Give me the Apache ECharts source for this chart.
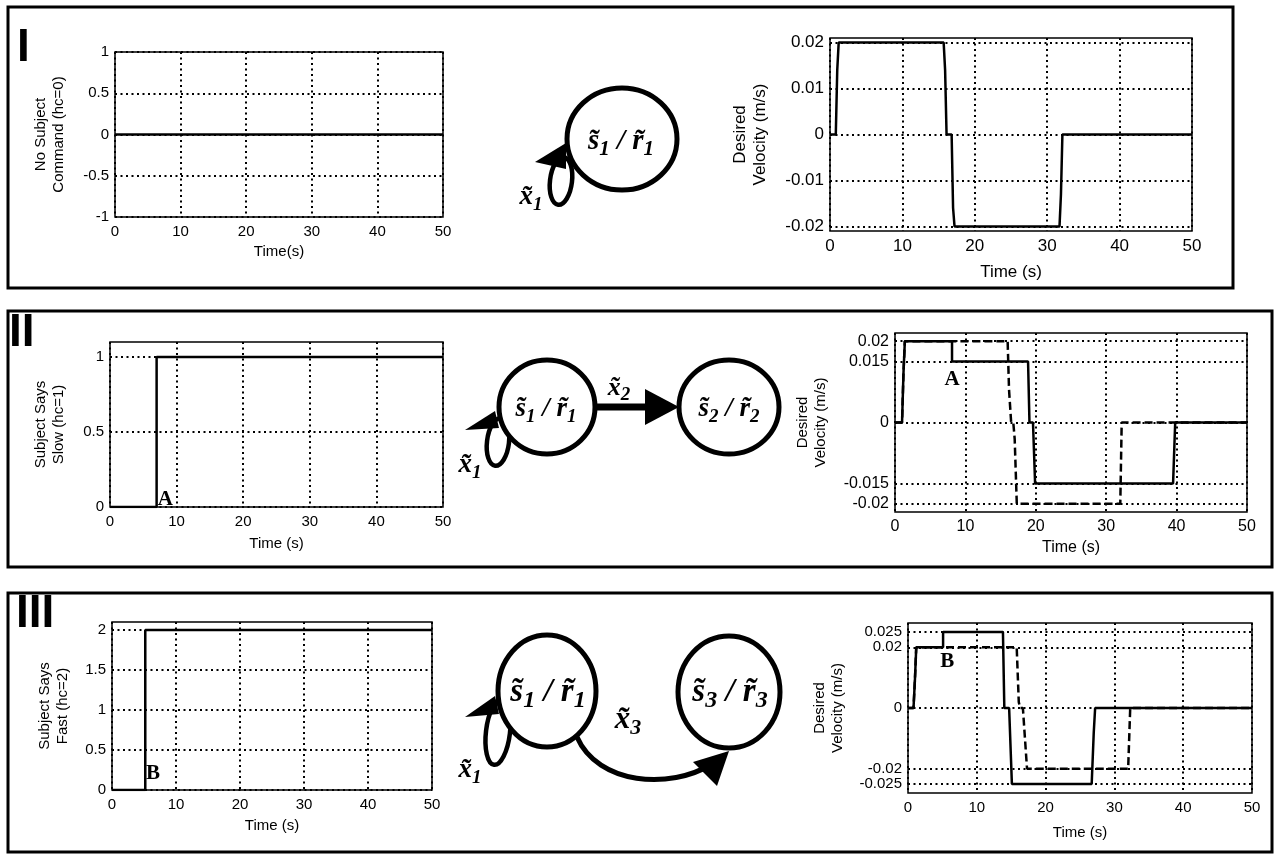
<!DOCTYPE html>
<html>
<head>
<meta charset="utf-8">
<script src="https://cdn.jsdelivr.net/npm/echarts@6.0.0/dist/echarts.min.js"></script>
<style>
  html, body { margin: 0; padding: 0; background: #fff; }
  #main { width: 1275px; height: 854px; }
</style>
</head>
<body>
<div id="main"></div>
<script>
// tick labels
const timeTicks = [0, 10, 20, 30, 40, 50];
const cmdTicksI = [-1, -0.5, 0, 0.5, 1];
const velTicksI = [-0.02, -0.01, 0, 0.01, 0.02];
const cmdTicksII = [0, 0.5, 1];
const velTicksII = [-0.02, -0.015, 0, 0.015, 0.02];
const cmdTicksIII = [0, 0.5, 1, 1.5, 2];
const velTicksIII = [-0.025, -0.02, 0, 0.02, 0.025];

// subject command (hc) over time
const cmdI = [[0, 0], [50, 0]];
const cmdII = [[0, 0], [7, 0], [7, 1], [50, 1]];
const cmdIII = [[0, 0], [5.2, 0], [5.2, 2], [50, 2]];

// desired velocity (m/s) over time
const velI = [[0, 0], [0.8, 0], [1.0, 0.014], [1.2, 0.02], [15.7, 0.02], [15.9, 0.014], [16.1, 0], [16.8, 0],
  [17.0, -0.016], [17.2, -0.02], [31.7, -0.02], [31.9, -0.013], [32.1, 0], [50, 0]];
const velIISolid = [[0, 0], [1.0, 0], [1.2, 0.012], [1.4, 0.02], [8.1, 0.02], [8.1, 0.015], [18.9, 0.015],
  [19.1, 0], [19.6, 0], [19.9, -0.015], [39.5, -0.015], [39.8, 0], [50, 0]];
const velIIDashed = [[0, 0], [1.0, 0], [1.2, 0.012], [1.4, 0.02], [16.0, 0.02], [16.2, 0.008], [16.5, 0],
  [16.8, 0], [17.0, -0.004], [17.3, -0.02], [32.0, -0.02], [32.2, 0], [50, 0]];
const velIIISolid = [[0, 0], [0.8, 0], [1.0, 0.009], [1.2, 0.02], [5.1, 0.02], [5.1, 0.025], [13.8, 0.025],
  [14.0, 0], [14.7, 0], [15.1, -0.025], [26.7, -0.025], [27.0, -0.008], [27.2, 0], [50, 0]];
const velIIIDashed = [[0, 0], [0.8, 0], [1.0, 0.009], [1.2, 0.02], [15.8, 0.02], [16.1, 0.002], [16.3, 0],
  [16.7, 0], [17.3, -0.02], [32.0, -0.02], [32.3, 0], [50, 0]];

// annotation points (time, value)
const markA1 = [8.3, 0.05];
const markA2 = [8.1, 0.0106];
const markB1 = [6.4, 0.21];
const markB2 = [5.7, 0.0153];

const charts = [
  { grid: { left: 115, top: 52, width: 328, height: 165 }, yMin: -1, yMax: 1, yTicks: cmdTicksI,
    yName: 'No Subject\nCommand (hc=0)', xName: 'Time(s)', yGap: 47, xGap: 27, fs: 15, nfs: 15,
    lines: [{ data: cmdI }] },
  { grid: { left: 830, top: 38, width: 362, height: 193 }, yMin: -0.021, yMax: 0.021, yTicks: velTicksI,
    yName: 'Desired\nVelocity (m/s)', xName: 'Time (s)', yGap: 60, xGap: 33, fs: 17, nfs: 17,
    lines: [{ data: velI }] },
  { grid: { left: 110, top: 342, width: 333, height: 165 }, yMin: 0, yMax: 1.1, yTicks: cmdTicksII,
    yName: 'Subject Says\nSlow (hc=1)', xName: 'Time (s)', yGap: 42, xGap: 29, fs: 15, nfs: 15,
    lines: [{ data: cmdII, mark: markA1, txt: 'A' }] },
  { grid: { left: 895, top: 333, width: 352, height: 179 }, yMin: -0.022, yMax: 0.022, yTicks: velTicksII,
    yName: 'Desired\nVelocity (m/s)', xName: 'Time (s)', yGap: 65, xGap: 28, fs: 16, nfs: 15,
    lines: [{ data: velIIDashed, dashed: true }, { data: velIISolid, mark: markA2, txt: 'A' }] },
  { grid: { left: 112, top: 622, width: 320, height: 168 }, yMin: 0, yMax: 2.1, yTicks: cmdTicksIII,
    yName: 'Subject Says\nFast (hc=2)', xName: 'Time (s)', yGap: 40, xGap: 28, fs: 15, nfs: 15,
    lines: [{ data: cmdIII, mark: markB1, txt: 'B' }] },
  { grid: { left: 908, top: 623, width: 344, height: 170 }, yMin: -0.028, yMax: 0.028, yTicks: velTicksIII,
    yName: 'Desired\nVelocity (m/s)', xName: 'Time (s)', yGap: 61, xGap: 32, fs: 15, nfs: 15,
    lines: [{ data: velIIIDashed, dashed: true }, { data: velIIISolid, mark: markB2, txt: 'B' }] }
];

const sans = 'Liberation Sans';
const serif = 'Liberation Serif';
const gridLine = { show: true, lineStyle: { color: '#000', type: [2, 3.5], width: 2 } };

const grids = [], xAxes = [], yAxes = [], series = [];
charts.forEach((c, i) => {
  grids.push(Object.assign({ show: true, borderColor: '#000', borderWidth: 1.5, backgroundColor: '#fff' }, c.grid));
  xAxes.push({
    type: 'value', gridIndex: i, min: 0, max: 50,
    name: c.xName, nameLocation: 'middle', nameGap: c.xGap,
    nameTextStyle: { color: '#000', fontFamily: sans, fontSize: c.fs },
    axisLine: { show: false, onZero: false },
    axisTick: { show: false, customValues: timeTicks },
    axisLabel: { customValues: timeTicks, color: '#000', fontFamily: sans, fontSize: c.fs, margin: 7 },
    splitLine: gridLine
  });
  yAxes.push({
    type: 'value', gridIndex: i, min: c.yMin, max: c.yMax,
    name: c.yName, nameLocation: 'middle', nameGap: c.yGap, nameRotate: 90,
    nameTextStyle: { color: '#000', fontFamily: sans, fontSize: c.nfs, lineHeight: c.nfs + 3 },
    axisLine: { show: false, onZero: false },
    axisTick: { show: false, customValues: c.yTicks },
    axisLabel: { customValues: c.yTicks, color: '#000', fontFamily: sans, fontSize: c.fs, margin: 6 },
    splitLine: gridLine
  });
  c.lines.forEach((l) => {
    const s = {
      type: 'line', xAxisIndex: i, yAxisIndex: i, data: l.data, symbol: 'none', silent: true,
      z: l.dashed ? 2 : 3,
      lineStyle: { color: '#000', width: 2.5, type: l.dashed ? [8, 4] : 'solid' }
    };
    if (l.mark) {
      s.markPoint = {
        symbol: 'circle', symbolSize: 0, silent: true,
        label: { show: true, position: 'inside', formatter: l.txt, color: '#000',
          fontFamily: serif, fontWeight: 'bold', fontSize: 21 },
        data: [{ coord: l.mark }]
      };
    }
    series.push(s);
  });
});

// state diagrams
const rich = (size) => ({
  v: { fontFamily: serif, fontStyle: 'italic', fontWeight: 'bold', fontSize: size, color: '#000' },
  s: { fontFamily: serif, fontStyle: 'italic', fontWeight: 'bold', fontSize: Math.round(size * 0.72),
    color: '#000', verticalAlign: 'bottom', padding: [0, 0, -4, 0] }
});
const stateText = (x, y, n, size) => ({
  type: 'text', x: x, y: y, z: 20,
  style: { text: '{v|s\u0303}{s|' + n + '}{v| / r\u0303}{s|' + n + '}', rich: rich(size),
    align: 'center', verticalAlign: 'middle' }
});
const edgeText = (x, y, n, size) => ({
  type: 'text', x: x, y: y, z: 20,
  style: { text: '{v|x\u0303}{s|' + n + '}', rich: rich(size), align: 'center', verticalAlign: 'middle' }
});
const ring = (cx, cy, rx, ry) => ({
  type: 'ellipse', z: 15, shape: { cx: cx, cy: cy, rx: rx, ry: ry },
  style: { fill: '#fff', stroke: '#000', lineWidth: 5 }
});
const loop = (cx, cy, rx, ry) => ({
  type: 'ellipse', z: 12, x: cx, y: cy, rotation: -0.12, shape: { cx: 0, cy: 0, rx: rx, ry: ry },
  style: { fill: 'none', stroke: '#000', lineWidth: 4.5 }
});
const tri = (pts) => ({ type: 'polygon', z: 16, shape: { points: pts }, style: { fill: '#000' } });
const frame = (x, y, w, h) => ({
  type: 'rect', z: 0, shape: { x: x, y: y, width: w, height: h },
  style: { fill: 'none', stroke: '#000', lineWidth: 3 }
});
const numeral = (x, y, t) => ({
  type: 'text', x: x, y: y, z: 20,
  style: { text: t, fontFamily: sans, fontWeight: 'bold', fontSize: 46, fill: '#000',
    align: 'left', verticalAlign: 'top' }
});

const graphic = [
  frame(8, 7, 1225, 281), frame(8, 311, 1264, 256), frame(8, 593, 1264, 259),
  numeral(17, 25, 'I'), numeral(9, 310, 'II'), numeral(16, 591, 'III'),
  // panel I
  loop(561, 181, 11, 24), ring(622, 139, 55, 51),
  tri([[535, 162], [566, 143], [566, 169]]),
  stateText(621, 142, 1, 29), edgeText(531, 197, 1, 27),
  // panel II
  loop(498, 442, 11, 24), ring(547, 407, 48, 47), ring(729, 407, 50, 47),
  tri([[465, 430], [495, 411], [499, 428]]),
  { type: 'line', z: 14, shape: { x1: 595, y1: 407, x2: 650, y2: 407 }, style: { stroke: '#000', lineWidth: 7 } },
  tri([[645, 389], [679, 407], [645, 425]]),
  stateText(546, 409, 1, 27), stateText(729, 409, 2, 27),
  edgeText(619, 388, 2, 26), edgeText(470, 465, 1, 27),
  // panel III
  loop(498, 732, 12, 33), ring(547, 691, 49, 56), ring(729, 692, 51, 56),
  tri([[465, 717], [495, 696], [499, 714]]),
  { type: 'bezierCurve', z: 14,
    shape: { x1: 577, y1: 737, cpx1: 598, cpy1: 785, cpx2: 670, cpy2: 790, x2: 712, y2: 764 },
    style: { fill: 'none', stroke: '#000', lineWidth: 5 } },
  tri([[693, 762], [729, 751], [717, 786]]),
  stateText(548, 692, 1, 33), stateText(730, 692, 3, 33),
  edgeText(628, 720, 3, 31), edgeText(470, 770, 1, 27)
];

const myChart = echarts.init(document.getElementById('main'), null, { renderer: 'canvas' });
myChart.setOption({
  backgroundColor: '#fff',
  animation: false,
  grid: grids,
  xAxis: xAxes,
  yAxis: yAxes,
  series: series,
  graphic: graphic
});
</script>
</body>
</html>
